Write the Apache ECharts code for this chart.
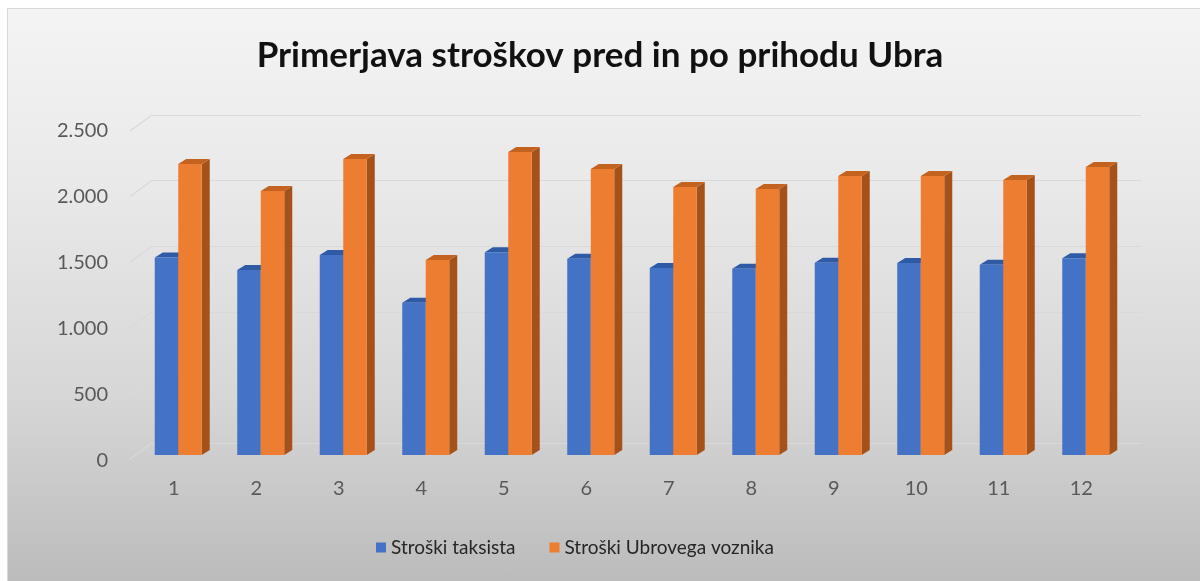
<!DOCTYPE html>
<html>
<head>
<meta charset="utf-8">
<script src="https://cdn.jsdelivr.net/npm/echarts@6/dist/echarts.min.js"></script>
<style>
  html, body { margin: 0; padding: 0; background: #fff; }
  #wrap { position: relative; width: 1200px; height: 581px; overflow: hidden; }
  #bg {
    position: absolute; left: 7px; top: 8px; width: 1200px; height: 590px;
    border: 1px solid #d9d9d9;
    background: linear-gradient(to bottom, #f4f4f4 0%, #e9e9e9 30%, #d7d7d7 65%, #b9b9b9 100%);
  }
  #main { position: absolute; left: 0; top: 0; width: 1200px; height: 581px; }
</style>
</head>
<body>
<div id="wrap">
  <div id="bg"></div>
  <div id="main"></div>
</div>
<script>
// podatki
const categories = ['1', '2', '3', '4', '5', '6', '7', '8', '9', '10', '11', '12'];
const taxiCosts = [1505, 1410, 1525, 1160, 1545, 1495, 1425, 1420, 1465, 1463, 1450, 1500];
const uberCosts = [2218, 2012, 2256, 1486, 2309, 2180, 2043, 2027, 2126, 2126, 2096, 2195];
const yTicks = [0, 500, 1000, 1500, 2000, 2500];
const seriesNames = ['Stroški taksista', 'Stroški Ubrovega voznika'];

const fontFamily = 'Lato, "Noto Sans", sans-serif';
const faceColors = [
  { front: '#4472c4', top: '#2f5aa6', side: '#2c4f8f' },
  { front: '#ed7d31', top: '#c4621f', side: '#a5511a' }
];

function thousands(v) {
  return String(v).replace(/\B(?=(\d{3})+(?!\d))/g, '.');
}

// 3D stolpec: sprednja ploskev, zgornja ploskev in stranska ploskev
function renderBar3D(params, api) {
  const idx = api.value(0);
  const val = api.value(1);
  const base = api.coord([idx, 0]);
  const top = api.coord([idx, val]);
  const w = 23.5, dx = 8, dy = 5;
  const x0 = params.seriesIndex === 0 ? base[0] - w : base[0];
  const c = faceColors[params.seriesIndex];
  return {
    type: 'group',
    children: [
      {
        type: 'polygon',
        shape: { points: [[x0 + w, top[1]], [x0 + w + dx, top[1] - dy], [x0 + w + dx, base[1] - dy], [x0 + w, base[1]]] },
        style: { fill: c.side }
      },
      {
        type: 'polygon',
        shape: { points: [[x0, top[1]], [x0 + w, top[1]], [x0 + w + dx, top[1] - dy], [x0 + dx, top[1] - dy]] },
        style: { fill: c.top }
      },
      {
        type: 'rect',
        shape: { x: x0, y: top[1], width: w, height: base[1] - top[1] },
        style: { fill: c.front }
      }
    ]
  };
}

// poševne črte na levi strani (od zadnje stene proti sprednjemu robu)
function renderSlant(params, api) {
  const p = api.coord([0, api.value(0)]);
  return {
    type: 'line',
    shape: { x1: p[0], y1: p[1], x2: p[0] - 22, y2: p[1] + 16 },
    style: { stroke: '#d9d9d9', lineWidth: 1.2 }
  };
}

const chart = echarts.init(document.getElementById('main'));
chart.setOption({
  backgroundColor: 'transparent',
  animation: false,
  title: {
    text: 'Primerjava stroškov pred in po prihodu Ubra',
    left: 'center',
    top: 33,
    textStyle: { fontFamily: fontFamily, fontSize: 35, fontWeight: 'bold', color: '#111' }
  },
  legend: {
    bottom: 19,
    left: 371,
    icon: 'rect',
    itemWidth: 10,
    itemHeight: 10,
    itemGap: 34,
    itemStyle: { borderWidth: 0 },
    data: seriesNames,
    textStyle: { fontFamily: fontFamily, fontSize: 19, color: '#262626' }
  },
  grid: [
    // sprednja ravnina stolpcev
    { left: 137, width: 990, top: 127, height: 328 },
    // zadnja stena z mrežnimi črtami
    { left: 152, width: 989, top: 115, height: 328 },
    // oznake osi y (sprednji rob)
    { left: 118, width: 10, top: 131, height: 330 }
  ],
  xAxis: [
    {
      gridIndex: 0, type: 'category', data: categories,
      axisLine: { show: false }, axisTick: { show: false },
      axisLabel: { margin: 24, padding: [0, 9, 0, 0], fontFamily: fontFamily, fontSize: 20, color: '#595959' }
    },
    { gridIndex: 1, type: 'value', min: 0, max: 1, show: false },
    { gridIndex: 2, type: 'value', min: 0, max: 1, show: false }
  ],
  yAxis: [
    { gridIndex: 0, type: 'value', min: 0, max: 2500, interval: 500, show: false },
    {
      gridIndex: 1, type: 'value', min: 0, max: 2500, interval: 500,
      axisLine: { show: false }, axisTick: { show: false }, axisLabel: { show: false },
      splitLine: { lineStyle: { color: '#d9d9d9', width: 1.2 } }
    },
    {
      gridIndex: 2, type: 'value', min: 0, max: 2500, interval: 500,
      axisLine: { show: false }, axisTick: { show: false }, splitLine: { show: false },
      axisLabel: { margin: 10, formatter: thousands, fontFamily: fontFamily, fontSize: 20, color: '#595959' }
    }
  ],
  series: [
    {
      name: seriesNames[0], type: 'custom', xAxisIndex: 0, yAxisIndex: 0,
      renderItem: renderBar3D, itemStyle: { color: faceColors[0].front },
      data: taxiCosts.map((v, i) => [i, v]), z: 3
    },
    {
      name: seriesNames[1], type: 'custom', xAxisIndex: 0, yAxisIndex: 0,
      renderItem: renderBar3D, itemStyle: { color: faceColors[1].front },
      data: uberCosts.map((v, i) => [i, v]), z: 4
    },
    {
      type: 'custom', xAxisIndex: 1, yAxisIndex: 1, silent: true,
      renderItem: renderSlant, data: yTicks.map(v => [v]), z: 1
    }
  ]
});
</script>
</body>
</html>
